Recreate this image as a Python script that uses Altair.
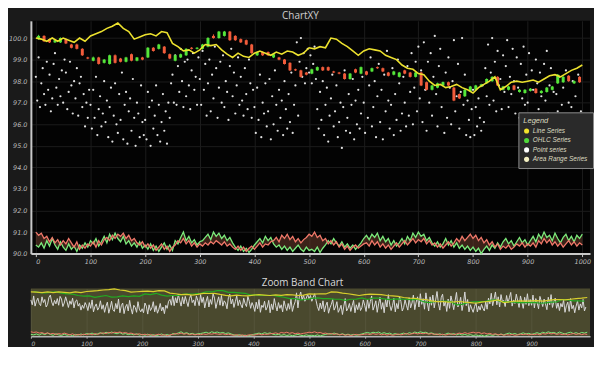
import altair as alt
import pandas as pd

# ---------------- data ----------------
LINE_X = list(range(0, 1001, 10))
LINE_Y = [100.0, 99.95, 99.85, 100.0, 99.85, 100.0, 99.9, 99.8, 100.0, 99.85,
          100.1, 100.2, 100.3, 100.45, 100.55, 100.7, 100.45, 100.3, 99.95, 100.05,
          100.15, 100.2, 100.1, 100.3, 100.25, 99.75, 99.6, 99.4, 99.45, 99.3,
          99.45, 99.7, 99.65, 99.7, 99.45, 99.25, 99.1, 99.3, 99.15, 99.1,
          99.3, 99.4, 99.3, 99.2, 99.35, 99.25, 99.4, 99.35, 99.2, 99.3,
          99.55, 99.5, 99.6, 99.55, 100.0, 99.95, 99.75, 99.6, 99.4, 99.2,
          99.4, 99.5, 99.45, 99.4, 99.2, 99.1, 99.0, 98.75, 98.6, 98.55,
          98.35, 98.3, 98.0, 97.8, 97.85, 97.7, 97.75, 97.85, 97.7, 97.6,
          97.45, 97.7, 97.85, 98.0, 98.2, 97.6, 97.75, 97.95, 98.0, 97.95,
          98.0, 98.05, 97.95, 98.1, 98.25, 98.3, 98.2, 98.35, 98.5, 98.6,
          98.75]

OHLC_X = list(range(5, 1000, 10))
OPEN = [99.95, 100.1, 99.95, 99.8, 99.8, 99.95, 99.7, 99.7, 99.5, 99.1,
        98.95, 99.1, 98.85, 98.8, 99.2, 99.05, 98.9, 99.25, 98.95, 99.1,
        99.1, 99.55, 99.5, 99.6, 99.25, 98.95, 99.1, 99.2, 99.55, 99.5,
        99.5, 99.6, 100.1, 100.0, 100.1, 100.3, 100.1, 99.95, 99.9, 99.7,
        99.2, 99.35, 99.35, 99.1, 99.1, 99.0, 98.85, 98.55, 98.5, 98.4,
        98.35, 98.5, 98.65, 98.65, 98.45, 98.4, 98.35, 98.1, 98.55, 98.35,
        98.45, 98.45, 98.65, 98.6, 98.4, 98.3, 98.2, 98.5, 98.4, 98.2,
        98.4, 97.95, 97.6, 97.7, 97.8, 97.95, 97.7, 97.4, 97.3, 97.55,
        97.6, 97.75, 97.9, 98.0, 98.2, 97.6, 97.6, 97.8, 97.5, 97.45,
        97.55, 97.65, 97.45, 97.5, 97.6, 97.9, 97.95, 98.25, 97.9, 98.2]
CLOSE = [100.1, 99.85, 99.8, 99.9, 100.0, 99.75, 99.55, 99.5, 99.2, 99.05,
         99.1, 98.8, 99.0, 99.2, 98.85, 98.9, 99.1, 98.95, 99.1, 99.0,
         99.55, 99.4, 99.7, 99.3, 99.05, 99.2, 99.25, 99.5, 99.5, 99.55,
         99.7, 100.0, 100.0, 100.3, 100.3, 99.9, 99.9, 99.8, 99.7, 99.3,
         99.35, 99.2, 99.2, 99.25, 99.0, 98.8, 98.5, 98.5, 98.2, 98.3,
         98.55, 98.65, 98.5, 98.5, 98.4, 98.35, 98.1, 98.35, 98.4, 98.65,
         98.3, 98.6, 98.6, 98.45, 98.25, 98.45, 98.4, 98.35, 98.2, 98.4,
         97.8, 97.6, 97.8, 97.9, 97.95, 97.8, 97.1, 97.2, 97.6, 97.75,
         97.8, 97.85, 98.1, 98.2, 97.8, 97.75, 97.75, 97.6, 97.6, 97.6,
         97.65, 97.45, 97.55, 97.7, 97.75, 98.3, 98.2, 98.0, 98.0, 97.95]
HIGH = [100.15, 100.13, 99.98, 99.95, 100.03, 99.98, 99.73, 99.74, 99.53, 99.13,
        99.14, 99.13, 99.03, 99.23, 99.24, 99.08, 99.13, 99.28, 99.12, 99.13,
        99.58, 99.58, 99.73, 99.63, 99.28, 99.23, 99.28, 99.53, 99.58, 99.58,
        99.73, 100.04, 100.17, 100.33, 100.33, 100.33, 100.13, 99.98, 99.93, 99.73,
        99.38, 99.38, 99.38, 99.28, 99.13, 99.03, 98.88, 98.58, 98.53, 98.43,
        98.58, 98.68, 98.68, 98.68, 98.48, 98.43, 98.38, 98.38, 98.58, 98.68,
        98.48, 98.63, 98.68, 98.63, 98.43, 98.48, 98.43, 98.53, 98.43, 98.43,
        98.43, 97.98, 97.83, 97.93, 97.98, 97.98, 97.73, 97.43, 97.63, 97.78,
        97.83, 97.88, 98.13, 98.23, 98.23, 97.78, 97.78, 97.83, 97.63, 97.63,
        97.68, 97.68, 97.58, 97.73, 97.78, 98.33, 98.23, 98.28, 98.03, 98.23]
LOW = [99.92, 99.82, 99.77, 99.77, 99.77, 99.72, 99.52, 99.47, 99.17, 99.02,
       98.92, 98.77, 98.82, 98.77, 98.82, 98.87, 98.87, 98.92, 98.92, 98.97,
       99.07, 99.37, 99.47, 99.27, 99.02, 98.92, 99.07, 99.17, 99.47, 99.47,
       99.47, 99.57, 99.97, 99.97, 100.07, 99.87, 99.87, 99.77, 99.67, 99.27,
       99.17, 99.17, 99.17, 99.07, 98.97, 98.77, 98.47, 98.47, 98.17, 98.27,
       98.32, 98.47, 98.47, 98.47, 98.37, 98.32, 98.07, 98.07, 98.37, 98.32,
       98.27, 98.42, 98.57, 98.42, 98.22, 98.27, 98.17, 98.32, 98.17, 98.17,
       97.77, 97.57, 97.57, 97.67, 97.77, 97.77, 97.07, 97.17, 97.27, 97.52,
       97.57, 97.72, 97.87, 97.97, 97.77, 97.57, 97.57, 97.57, 97.47, 97.42,
       97.52, 97.42, 97.42, 97.47, 97.57, 97.87, 97.92, 97.97, 97.87, 97.92]

POINT_Y = [98.2, 97.1, 99.1, 96.8, 97.9, 98.6, 97.4, 96.9, 98.9, 97.6,
           98.3, 96.6, 97.2, 98.8, 99.3, 97.7, 96.9, 98.1, 97.3, 98.5,
           97.0, 99.0, 98.4, 96.7, 97.5, 98.9, 97.8, 96.5, 98.0, 97.2,
           98.6, 96.4, 97.9, 98.2, 96.8, 97.4, 95.9, 97.0, 96.3, 97.6,
           96.9, 95.8, 97.6, 96.3, 98.2, 95.5, 96.7, 97.3, 95.9, 96.5,
           98.0, 96.1, 97.1, 95.4, 96.8, 97.7, 95.2, 96.4, 97.9, 96.0,
           95.6, 97.4, 96.2, 98.4, 95.3, 96.9, 97.5, 95.1, 96.6, 97.2,
           95.7, 98.1, 96.3, 95.0, 97.0, 96.5, 95.4, 97.8, 96.1, 95.5,
           96.2, 95.3, 97.5, 96.8, 95.0, 97.1, 95.8, 96.4, 97.8, 95.5,
           96.9, 95.2, 96.1, 97.4, 95.7, 96.6, 95.1, 97.0, 96.3, 97.9,
           98.3, 97.0, 99.2, 96.9, 98.7, 97.5, 99.5, 98.0, 96.8, 98.9,
           97.3, 99.0, 97.8, 96.7, 98.5, 99.3, 97.6, 98.2, 96.9, 99.1,
           98.1, 96.9, 99.4, 97.6, 98.8, 96.4, 97.9, 99.0, 96.6, 98.3,
           97.2, 99.6, 98.6, 96.3, 97.7, 98.9, 97.0, 99.2, 96.8, 98.0,
           97.5, 96.2, 98.7, 99.5, 97.3, 98.4, 96.5, 97.8, 99.1, 96.9,
           98.2, 97.1, 96.4, 98.6, 97.4, 96.7, 99.0, 97.9, 96.3, 97.6,
           96.8, 95.6, 97.7, 96.2, 98.3, 95.4, 97.0, 96.5, 97.9, 95.9,
           96.6, 98.1, 95.3, 97.3, 96.0, 98.5, 96.9, 95.7, 97.6, 96.3,
           97.1, 95.5, 98.0, 96.7, 95.8, 97.4, 96.1, 98.4, 95.6, 96.9,
           97.8, 99.8, 96.4, 98.9, 100.0, 98.2, 99.3, 97.9, 98.6, 99.5,
           98.4, 99.2, 97.9, 98.8, 99.6, 98.1, 96.7, 95.8, 97.5, 96.2,
           98.0, 95.5, 96.9, 97.7, 95.2, 96.4, 97.2, 98.3, 95.9, 96.6,
           97.8, 95.4, 96.1, 97.0, 94.9, 96.8, 98.5, 95.7, 96.3, 97.4,
           95.6, 96.9, 98.1, 95.3, 97.1, 96.0, 97.6, 95.8, 96.5, 98.2,
           97.0, 95.6, 98.4, 96.3, 97.8, 99.1, 95.9, 96.8, 98.0, 95.4,
           97.3, 98.8, 96.1, 97.6, 95.3, 98.3, 96.6, 99.4, 97.1, 95.8,
           96.9, 98.6, 95.5, 97.4, 96.2, 99.0, 97.9, 95.7, 96.5, 98.2,
           97.0, 95.9, 98.7, 96.4, 97.5, 99.3, 96.0, 97.7, 98.9, 96.6,
           99.6, 97.2, 98.5, 96.1, 99.8, 97.6, 95.7, 98.9, 97.0, 99.3,
           96.4, 98.2, 100.1, 97.4, 95.9, 98.7, 99.5, 96.8, 97.9, 95.6,
           98.4, 96.3, 99.1, 97.7, 96.0, 98.0, 99.9, 96.6, 97.3, 98.8,
           95.8, 97.5, 100.0, 96.9, 98.3, 95.5, 97.1, 96.2, 95.4, 96.7,
           97.6, 95.5, 96.8, 95.9, 97.2, 96.3, 95.7, 97.8, 96.1, 98.6,
           97.3, 99.7, 96.9, 98.4, 100.0, 97.1, 98.9, 96.6, 99.4, 97.8,
           98.1, 96.7, 99.2, 97.5, 98.7, 99.9, 96.8, 98.2, 97.4, 99.5,
           98.0, 96.5, 99.1, 97.7, 96.3, 98.8, 97.2, 99.6, 96.9, 98.3,
           97.0, 99.3, 96.4, 98.5, 97.6, 96.2, 99.0, 97.9, 96.7, 98.4,
           97.3, 96.0, 98.8, 97.1, 99.4, 96.5, 97.8, 98.6, 96.3, 97.5,
           95.8, 97.4, 96.6, 98.2, 95.4, 96.9, 97.7, 95.6, 98.5, 96.2,
           97.0, 95.3, 96.8, 98.0, 95.9, 97.3, 96.4, 98.3, 95.7, 96.6]
POINT_X = [i * 2.5 for i in range(len(POINT_Y))]

RANGE_X = list(range(0, 1001, 5))
RANGE_GREEN = [90.4, 90.3, 90.5, 90.25, 90.6, 90.35, 90.7, 90.4, 90.2, 90.55, 90.3, 90.15, 90.45, 90.2, 90.35, 90.1, 90.4, 90.25, 90.5, 90.3, 90.6,
               90.45, 90.7, 90.35, 90.55, 90.8, 90.5, 90.9, 90.65, 90.95, 90.7, 90.55, 90.8, 90.45, 90.6, 90.35, 90.5, 90.3, 90.55, 90.25, 90.4,
               90.2, 90.45, 90.15, 90.35, 90.1, 90.3, 90.5, 90.2, 90.4, 90.15, 90.6, 90.45, 90.75, 91.0, 90.6, 90.8, 90.5, 90.65, 90.4, 90.55,
               90.6, 90.75, 90.9, 90.65, 91.0, 90.8, 90.95, 90.7, 90.85, 90.6, 90.75, 90.5, 90.3, 90.15, 90.35, 90.1, 90.25, 90.05, 90.2, 90.4,
               90.55, 90.7, 90.5, 90.8, 90.6, 90.75, 90.45, 90.3, 90.4, 90.2, 90.35, 90.15, 90.3, 90.1, 90.25, 90.4, 90.2, 90.1, 90.3, 90.15,
               90.2, 90.1, 90.3, 90.05, 90.25, 90.4, 90.6, 90.45, 90.7, 90.5, 90.35, 90.55, 90.3, 90.45, 90.25, 90.4, 90.2, 90.35, 90.5, 90.7,
               90.85, 90.65, 90.9, 90.75, 90.95, 90.6, 90.8, 90.55, 90.7, 90.4, 90.6, 90.35, 90.5, 90.7, 90.45, 90.8, 90.6, 90.95, 90.75, 91.0,
               90.8, 90.9, 90.6, 90.75, 90.5, 90.35, 90.55, 90.3, 90.45, 90.7, 90.4, 90.6, 90.3, 90.5, 90.25, 90.4, 90.2, 90.35, 90.15, 90.3,
               90.1, 90.25, 90.0, 90.2, 90.35, 90.15, 90.4, 90.25, 90.5, 90.3, 90.55, 90.7, 90.45, 90.6, 90.35, 90.55, 90.75, 90.5, 90.65, 90.4,
               90.6, 90.8, 90.55, 90.9, 90.7, 91.0, 90.75, 90.85, 90.6, 90.95, 90.7, 90.5, 90.75, 90.9, 90.6, 90.8, 90.55, 90.85, 90.7, 90.9]
RANGE_RED = [91.0, 90.85, 90.95, 90.7, 90.8, 90.55, 90.75, 90.5, 90.65, 90.4, 90.6, 90.45, 90.7, 90.5, 90.3, 90.55, 90.2, 90.4, 90.25, 90.45, 90.35,
             90.55, 90.3, 90.6, 90.4, 90.65, 90.75, 90.6, 90.85, 90.7, 90.9, 90.8, 90.95, 90.7, 90.85, 90.6, 90.7, 90.5, 90.4, 90.55, 90.3,
             90.45, 90.25, 90.4, 90.15, 90.3, 90.45, 90.2, 90.35, 90.1, 90.3, 90.4, 90.6, 90.5, 90.7, 90.45, 90.6, 90.35, 90.5, 90.3, 90.45,
             90.35, 90.5, 90.4, 90.55, 90.45, 90.6, 90.5, 90.4, 90.55, 90.35, 90.45, 90.3, 90.2, 90.35, 90.15, 90.3, 90.1, 90.25, 90.35, 90.2,
             90.35, 90.5, 90.3, 90.45, 90.4, 90.55, 90.6, 90.75, 90.55, 90.85, 90.7, 90.9, 90.65, 90.8, 90.55, 90.7, 90.5, 90.65, 90.75, 90.9,
             90.8, 91.0, 90.75, 90.85, 90.6, 90.7, 90.45, 90.6, 90.4, 90.55, 90.3, 90.45, 90.2, 90.35, 90.15, 90.3, 90.4, 90.25, 90.35, 90.45,
             90.5, 90.35, 90.6, 90.4, 90.55, 90.3, 90.45, 90.25, 90.4, 90.2, 90.35, 90.5, 90.3, 90.45, 90.6, 90.4, 90.55, 90.7, 90.5, 90.65,
             90.55, 90.7, 90.45, 90.6, 90.4, 90.5, 90.3, 90.45, 90.25, 90.4, 90.55, 90.35, 90.5, 90.7, 90.55, 90.8, 90.6, 90.75, 90.9, 90.7,
             90.85, 90.6, 90.75, 90.5, 90.65, 90.4, 90.55, 90.3, 90.45, 90.2, 90.35, 90.25, 90.4, 90.2, 90.3, 90.45, 90.35, 90.5, 90.3, 90.45,
             90.35, 90.5, 90.3, 90.6, 90.45, 90.7, 90.5, 90.65, 90.4, 90.55, 90.35, 90.5, 90.3, 90.45, 90.6, 90.4, 90.55, 90.35, 90.5, 90.4]

LEGEND_NAMES = ["Line Series", "OHLC Series", "Point series", "Area Range Series"]
LEGEND_COLORS = ["#f2e22c", "#4fd83a", "#ffffff", "#f3f0c2"]
X_TICKS = list(range(0, 1001, 100))
ZOOM_X_TICKS = list(range(0, 901, 100))
Y_TICKS = list(range(90, 101))

# ---------------- tables ----------------
line_df = pd.DataFrame({"x": LINE_X, "y": LINE_Y})
ohlc_df = pd.DataFrame({"x": OHLC_X, "open": OPEN, "close": CLOSE, "high": HIGH, "low": LOW})
pts_df = pd.DataFrame({"x": POINT_X, "y": POINT_Y})
rng_df = pd.DataFrame({"x": RANGE_X, "g": RANGE_GREEN, "r": RANGE_RED})
leg_df = pd.DataFrame({"name": LEGEND_NAMES})

GREEN = "#55e63a"
RED = "#f25c3b"
YELLOW = "#ece12e"
PLOT_W = 562

xs = alt.Scale(domain=[0, 1005], nice=False, zero=False)
ys = alt.Scale(domain=[90, 100.8], nice=False, zero=False)

x_axis = alt.Axis(values=X_TICKS, format="d", title=None, labelFontSize=6.5, labelFontStyle="italic",
                  labelColor="#bdbdbd", labelFont="DejaVu Sans", domainColor="#c8c8c8", domainWidth=2,
                  tickColor="#c8c8c8", tickSize=3, gridColor="#1c1c1c", labelPadding=2, labelFlush=6)
y_axis = alt.Axis(values=Y_TICKS, format=".1f", title=None, labelFontSize=6.5, labelFontStyle="italic",
                  labelColor="#bdbdbd", labelFont="DejaVu Sans", domainColor="#c8c8c8", domainWidth=2,
                  ticks=False, gridColor="#1c1c1c", labelPadding=4, minExtent=23, maxExtent=23)

X = alt.X("x:Q", scale=xs, axis=x_axis)


def Y(field):
    return alt.Y(f"{field}:Q", scale=ys, axis=y_axis)


range_fill = alt.Chart(rng_df).mark_area(color="#6a3c2c", opacity=0.55).encode(x=X, y=Y("g"), y2="r:Q")
range_g = alt.Chart(rng_df).mark_line(color="#7bea7b", strokeWidth=1.3).encode(x=X, y=Y("g"))
range_r = alt.Chart(rng_df).mark_line(color="#f0786a", strokeWidth=1.3).encode(x=X, y=Y("r"))
points = alt.Chart(pts_df).mark_circle(size=5, color="#eeeeee", opacity=0.95).encode(x=X, y=Y("y"))
candle_color = alt.condition(alt.datum.close >= alt.datum.open, alt.value(GREEN), alt.value(RED))
wicks = alt.Chart(ohlc_df).mark_rule(strokeWidth=1).encode(x=X, y=Y("low"), y2="high:Q", color=candle_color)
bodies = alt.Chart(ohlc_df).mark_bar(size=3).encode(x=X, y=Y("open"), y2="close:Q", color=candle_color)
yline = alt.Chart(line_df).mark_line(color=YELLOW, strokeWidth=1.6).encode(x=X, y=Y("y"))
legend_layer = alt.Chart(leg_df).mark_point(filled=True, opacity=0).encode(
    x=alt.value(0), y=alt.value(0),
    color=alt.Color("name:N", scale=alt.Scale(domain=LEGEND_NAMES, range=LEGEND_COLORS),
                    legend=alt.Legend(title="Legend", orient="none", legendX=490, legendY=92,
                                      titleFontSize=7.5, titleFontStyle="italic", titleFontWeight="normal",
                                      titleColor="#dcdac0", titleFont="Liberation Sans", titlePadding=3,
                                      labelFontSize=6.5, labelFontStyle="italic", labelColor="#dcdac0",
                                      labelFont="Liberation Sans", labelOffset=3,
                                      symbolType="circle", symbolSize=26, symbolOpacity=1,
                                      symbolStrokeWidth=0, rowPadding=2.5, padding=5,
                                      fillColor="#2a2a2a", strokeColor="#8c8c8c")))

main = alt.layer(range_fill, range_g, range_r, points, wicks, bodies, yline, legend_layer).properties(
    width=PLOT_W, height=234,
    title=alt.TitleParams("ChartXY", fontSize=10, color="#cfcfcf", font="Open Sans", fontWeight="normal",
                          anchor="middle", frame="group", offset=-3, dx=-10),
    view=alt.ViewConfig(fill="#030303", stroke=None))

# ---------------- zoom band ----------------
zx_axis = alt.Axis(values=ZOOM_X_TICKS, format="d", title=None, labelFontSize=6, labelFontStyle="italic",
                   labelColor="#bdbdbd", labelFont="DejaVu Sans", domainColor="#b5b5b5", domainWidth=1.5,
                   tickColor="#b5b5b5", tickSize=2, gridColor="#56553b", labelPadding=2)
zy_axis = alt.Axis(title=None, labels=False, ticks=False, domain=False, grid=False, minExtent=23, maxExtent=23)
ZX = alt.X("x:Q", scale=xs, axis=zx_axis)


def ZY(field):
    return alt.Y(f"{field}:Q", scale=ys, axis=zy_axis)


z_rg = alt.Chart(rng_df).mark_line(color="#7bea7b", strokeWidth=1).encode(x=ZX, y=ZY("g"))
z_rr = alt.Chart(rng_df).mark_line(color="#f0786a", strokeWidth=1).encode(x=ZX, y=ZY("r"))
z_pts = alt.Chart(pts_df).mark_line(color="#d9d9d9", strokeWidth=1).encode(x=ZX, y=ZY("y"))
z_ohlc = alt.Chart(ohlc_df).mark_line(color="#22aa22", strokeWidth=1.2).encode(x=ZX, y=ZY("close"))
z_line = alt.Chart(line_df).mark_line(color="#d8cf2c", strokeWidth=1.2).encode(x=ZX, y=ZY("y"))

zoom = alt.layer(z_rg, z_rr, z_pts, z_ohlc, z_line).properties(
    width=PLOT_W, height=48,
    title=alt.TitleParams("Zoom Band Chart", fontSize=10, color="#d8d8d8", font="Open Sans",
                          fontWeight="normal", anchor="middle", frame="group", offset=-2, dx=-8),
    view=alt.ViewConfig(fill="#4a492e", stroke=None))

chart = alt.vconcat(main, zoom, spacing=13).properties(
    padding={"top": 2, "left": 0, "right": 0, "bottom": 0}).configure(background="#1a1a1a")

chart.save("out.html", embed_options={"renderer": "svg", "actions": False})
